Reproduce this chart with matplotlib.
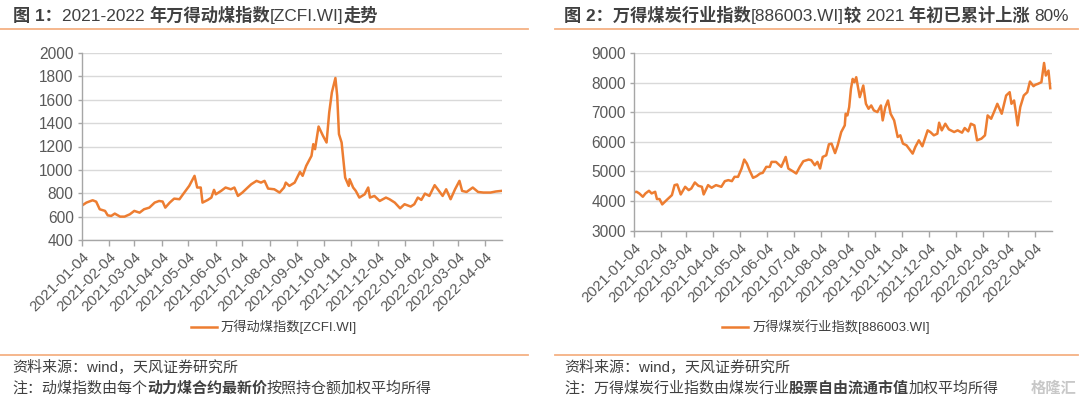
import matplotlib
matplotlib.use("Agg")
import matplotlib.pyplot as plt
import matplotlib.dates as mdates
from matplotlib.lines import Line2D
import pandas as pd

plt.rcParams['font.family'] = ['Liberation Sans', 'Noto Sans CJK SC', 'DejaVu Sans']

# ---------------- data ----------------
zcfi_dates = [
    "2021-01-04", "2021-01-09", "2021-01-16", "2021-01-20", "2021-01-24", "2021-01-30",
    "2021-02-02", "2021-02-06", "2021-02-10", "2021-02-16", "2021-02-21", "2021-02-27",
    "2021-03-04", "2021-03-10", "2021-03-15", "2021-03-21", "2021-03-27", "2021-04-01",
    "2021-04-05", "2021-04-08", "2021-04-13", "2021-04-18", "2021-04-24", "2021-04-28",
    "2021-05-05", "2021-05-11", "2021-05-14", "2021-05-18", "2021-05-20", "2021-05-26",
    "2021-05-30", "2021-06-02", "2021-06-04", "2021-06-10", "2021-06-15", "2021-06-21",
    "2021-06-25", "2021-06-29", "2021-07-04", "2021-07-10", "2021-07-14", "2021-07-20",
    "2021-07-25", "2021-07-29", "2021-08-02", "2021-08-09", "2021-08-15", "2021-08-20",
    "2021-08-22", "2021-08-26", "2021-09-01", "2021-09-07", "2021-09-10", "2021-09-14",
    "2021-09-20", "2021-09-22", "2021-09-24", "2021-09-28", "2021-10-03", "2021-10-07",
    "2021-10-10", "2021-10-13", "2021-10-17", "2021-10-19", "2021-10-21", "2021-10-24",
    "2021-10-28", "2021-11-01", "2021-11-02", "2021-11-06", "2021-11-09", "2021-11-13",
    "2021-11-19", "2021-11-23", "2021-11-25", "2021-11-30", "2021-12-06", "2021-12-13",
    "2021-12-17", "2021-12-23", "2021-12-29", "2022-01-03", "2022-01-10", "2022-01-14",
    "2022-01-18", "2022-01-22", "2022-01-26", "2022-01-31", "2022-02-06", "2022-02-10",
    "2022-02-15", "2022-02-19", "2022-02-24", "2022-03-01", "2022-03-06", "2022-03-09",
    "2022-03-14", "2022-03-21", "2022-03-27", "2022-04-02", "2022-04-10", "2022-04-16",
    "2022-04-22",
]
zcfi_values = [
    695, 720, 740, 728, 663, 649,
    611, 606, 626, 600, 600, 620,
    649, 634, 663, 677, 720, 734,
    729, 677, 720, 754, 749, 791,
    863, 949, 849, 849, 720, 743,
    763, 829, 791, 820, 849, 834,
    849, 777, 806, 849, 877, 906,
    891, 906, 840, 834, 806, 849,
    891, 863, 891, 983, 949, 1034,
    1120, 1220, 1177, 1371, 1291, 1234,
    1491, 1663, 1786, 1634, 1306, 1234,
    934, 863, 920, 849, 820, 763,
    791, 849, 763, 777, 734, 763,
    749, 720, 671, 706, 686, 706,
    763, 743, 797, 777, 869, 829,
    777, 834, 749, 834, 906, 820,
    811, 849, 811, 806, 806, 815,
    820,
]

coal_dates = [
    "2021-01-04", "2021-01-07", "2021-01-10", "2021-01-14", "2021-01-17", "2021-01-21",
    "2021-01-24", "2021-01-28", "2021-01-30", "2021-02-02", "2021-02-05", "2021-02-10",
    "2021-02-16", "2021-02-19", "2021-02-22", "2021-02-26", "2021-03-03", "2021-03-07",
    "2021-03-10", "2021-03-14", "2021-03-18", "2021-03-22", "2021-03-24", "2021-03-29",
    "2021-04-02", "2021-04-07", "2021-04-13", "2021-04-17", "2021-04-21", "2021-04-25",
    "2021-04-28", "2021-05-02", "2021-05-06", "2021-05-09", "2021-05-12", "2021-05-15",
    "2021-05-19", "2021-05-23", "2021-05-27", "2021-05-30", "2021-06-03", "2021-06-07",
    "2021-06-09", "2021-06-14", "2021-06-20", "2021-06-25", "2021-06-28", "2021-07-03",
    "2021-07-07", "2021-07-11", "2021-07-15", "2021-07-21", "2021-07-24", "2021-07-28",
    "2021-07-31", "2021-08-03", "2021-08-06", "2021-08-10", "2021-08-13", "2021-08-16",
    "2021-08-20", "2021-08-23", "2021-08-27", "2021-08-31", "2021-09-01", "2021-09-03",
    "2021-09-05", "2021-09-07", "2021-09-09", "2021-09-11", "2021-09-13", "2021-09-15",
    "2021-09-17", "2021-09-21", "2021-09-24", "2021-09-27", "2021-09-30", "2021-10-03",
    "2021-10-07", "2021-10-11", "2021-10-13", "2021-10-16", "2021-10-19", "2021-10-22",
    "2021-10-26", "2021-10-30", "2021-11-02", "2021-11-05", "2021-11-09", "2021-11-14",
    "2021-11-16", "2021-11-19", "2021-11-23", "2021-11-27", "2021-12-03", "2021-12-06",
    "2021-12-10", "2021-12-14", "2021-12-16", "2021-12-19", "2021-12-23", "2021-12-27",
    "2022-01-02", "2022-01-06", "2022-01-11", "2022-01-14", "2022-01-18", "2022-01-21",
    "2022-01-25", "2022-01-28", "2022-02-02", "2022-02-06", "2022-02-09", "2022-02-13",
    "2022-02-17", "2022-02-20", "2022-02-25", "2022-03-02", "2022-03-06", "2022-03-08",
    "2022-03-11", "2022-03-13", "2022-03-15", "2022-03-18", "2022-03-22", "2022-03-26",
    "2022-03-29", "2022-04-02", "2022-04-04", "2022-04-07", "2022-04-11", "2022-04-14",
    "2022-04-16", "2022-04-19", "2022-04-21",
]
coal_values = [
    4300, 4314, 4258, 4146, 4258, 4348,
    4258, 4314, 4068, 4068, 3888, 4034,
    4202, 4539, 4561, 4224, 4482, 4370,
    4426, 4628, 4516, 4482, 4224, 4539,
    4449, 4539, 4482, 4673, 4707, 4673,
    4819, 4819, 5099, 5402, 5267, 5043,
    4785, 4841, 4931, 4953, 5155, 5155,
    5323, 5323, 5155, 5491, 5099, 5009,
    4931, 5155, 5346, 5402, 5380, 5211,
    5323, 5099, 5491, 5547, 5917, 5940,
    5620, 5884, 6332, 6556, 6949, 6893,
    7173, 7790, 8126, 8014, 8182, 7845,
    7509, 7901, 7285, 7117, 7229, 7061,
    7005, 7229, 6724, 7173, 7397, 6949,
    6724, 6164, 6220, 5940, 5884, 5682,
    5603, 5828, 6052, 5850, 6388, 6332,
    6220, 6276, 6646, 6388, 6612, 6422,
    6332, 6388, 6310, 6467, 6355, 6612,
    6556, 6052, 6108, 6220, 6893, 6780,
    7061, 7285, 6949, 7565, 7677, 7285,
    7397, 7005, 6556, 7173, 7565, 7677,
    8036, 7879, 7924, 7958, 8014, 8664,
    8238, 8406, 7812,
]

left_yticks = [400, 600, 800, 1000, 1200, 1400, 1600, 1800, 2000]
right_yticks = [3000, 4000, 5000, 6000, 7000, 8000, 9000]
month_ticks = pd.date_range("2021-01-01", "2022-04-01", freq="MS") + pd.Timedelta(days=3)

left_title = [("图 1：", "bold"), ("2021-2022 ", "normal"), ("年万得动煤指数", "bold"),
              ("[ZCFI.WI]", "normal"), ("走势", "bold")]
right_title = [("图 2：万得煤炭行业指数", "bold"), ("[886003.WI]", "normal"), ("较 ", "bold"),
               ("2021 ", "normal"), ("年初已累计上涨 ", "bold"), ("80%", "normal")]
left_legend = "万得动煤指数[ZCFI.WI]"
right_legend = "万得煤炭行业指数[886003.WI]"
source_text = "资料来源：wind，天风证券研究所"
left_note = [("注：动煤指数由每个", "normal"), ("动力煤合约最新价", "bold"),
             ("按照持仓额加权平均所得", "normal")]
right_note = [("注：万得煤炭行业指数由煤炭行业", "normal"), ("股票自由流通市值", "bold"),
              ("加权平均所得", "normal")]

# ---------------- style ----------------
W, H = 1080, 399
LINE = "#ED7D31"
SEP = "#F4B183"
TXT = "#404040"
TICK = "#595959"
GRID = "#D9D9D9"
SPINE = "#A6A6A6"

fig = plt.figure(figsize=(W / 100, H / 100), dpi=100)
fig.patch.set_facecolor("white")


def fx(px):
    return px / W


def fy(py):
    return 1 - py / H


def make_axes(x0, x1, ytop, ybot):
    return fig.add_axes([fx(x0), fy(ybot), fx(x1 - x0), (ybot - ytop) / H])


def style_axes(ax, dates, values, yticks, label):
    d = pd.to_datetime(dates)
    ax.plot(d, values, color=LINE, lw=1.8, label=label, solid_joinstyle="round")
    ax.set_ylim(yticks[0], yticks[-1])
    ax.set_yticks(yticks)
    ax.set_xlim(pd.Timestamp("2021-01-04"), pd.Timestamp("2022-04-23"))
    ax.set_xticks(month_ticks)
    ax.xaxis.set_major_formatter(mdates.DateFormatter("%Y-%m-%d"))
    ax.grid(axis="y", color=GRID, lw=1.0)
    ax.set_axisbelow(True)
    for s in ("top", "right"):
        ax.spines[s].set_visible(False)
    for s in ("left", "bottom"):
        ax.spines[s].set_color(SPINE)
        ax.spines[s].set_linewidth(1.0)
    ax.tick_params(axis="y", colors=SPINE, labelcolor=TICK, labelsize=11.2,
                   length=3, width=1, pad=3)
    ax.tick_params(axis="x", colors=SPINE, labelcolor=TICK, labelsize=10.8,
                   length=4, width=1, pad=3)
    for lab in ax.get_xticklabels():
        lab.set_rotation(45)
        lab.set_ha("right")
        lab.set_rotation_mode("anchor")


axL = make_axes(82, 502, 53, 240)
style_axes(axL, zcfi_dates, zcfi_values, left_yticks, left_legend)
axR = make_axes(634, 1052, 53, 230.7)
style_axes(axR, coal_dates, coal_values, right_yticks, right_legend)

for ax, cx in ((axL, 274), (axR, 826)):
    ax.legend(loc="center", bbox_to_anchor=(fx(cx), fy(327)), bbox_transform=fig.transFigure,
              frameon=False, fontsize=9.5, handlelength=2.0, handletextpad=0.3,
              labelcolor=TXT)

# separator lines
for (x0, x1) in ((0, 528), (555, 1078)):
    fig.add_artist(Line2D([fx(x0), fx(x1)], [fy(29), fy(29)], color=SEP, lw=1.3))
    fig.add_artist(Line2D([fx(x0), fx(x1)], [fy(354.5), fy(354.5)], color=SEP, lw=1.3))

renderer = fig.canvas.get_renderer()


def rich(x_px, base_px, pieces, size, color):
    cur = fx(x_px)
    for txt, w in pieces:
        t = fig.text(cur, fy(base_px), txt, fontsize=size, fontweight=w, color=color,
                     ha="left", va="baseline")
        cur += t.get_window_extent(renderer).width / W


rich(13, 21, left_title, 12.4, TXT)
rich(564, 21, right_title, 12.4, TXT)
rich(12, 372, [(source_text, "normal")], 10.8, TXT)
rich(564, 372, [(source_text, "normal")], 10.8, TXT)
rich(12, 393, left_note, 10.8, TXT)
rich(564, 393, right_note, 10.8, TXT)

fig.text(fx(1076), fy(393), "格隆汇", fontsize=11, color="#C8C8C8", ha="right", va="baseline",
         fontweight="bold")

fig.savefig("out.png", dpi=100, facecolor="white")
